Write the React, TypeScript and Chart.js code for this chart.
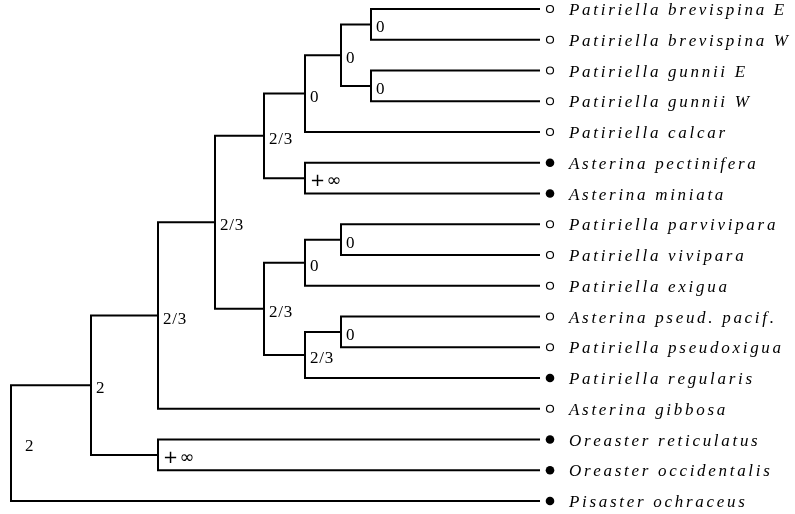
import React, { useEffect, useRef } from "react";
import { Chart, registerables } from "chart.js";

Chart.register(...registerables);

// ---- Data ----
const LEAF_NAMES = [
  "Patiriella brevispina E",
  "Patiriella brevispina W",
  "Patiriella gunnii E",
  "Patiriella gunnii W",
  "Patiriella calcar",
  "Asterina pectinifera",
  "Asterina miniata",
  "Patiriella parvivipara",
  "Patiriella vivipara",
  "Patiriella exigua",
  "Asterina pseud. pacif.",
  "Patiriella pseudoxigua",
  "Patiriella regularis",
  "Asterina gibbosa",
  "Oreaster reticulatus",
  "Oreaster occidentalis",
  "Pisaster ochraceus",
];
const LEAF_FILLED = [
  false, false, false, false, false, true, true, false, false, false,
  false, false, true, false, true, true, true,
];
// internal nodes: ids start with "n", leaves are "t<index>"
const NODE_IDS = ["nA", "nB", "nC", "nD", "nE", "nF", "nG", "nH", "nI", "nJ", "nK", "nL", "nM", "nN", "nO", "nR"];
const NODE_CHILDREN = [
  ["t0", "t1"],
  ["t2", "t3"],
  ["nA", "nB"],
  ["nC", "t4"],
  ["t5", "t6"],
  ["nD", "nE"],
  ["t7", "t8"],
  ["nG", "t9"],
  ["t10", "t11"],
  ["nI", "t12"],
  ["nH", "nJ"],
  ["nF", "nK"],
  ["nL", "t13"],
  ["t14", "t15"],
  ["nM", "nN"],
  ["nO", "t16"],
];
const NODE_DEPTH = [360, 360, 330, 294, 294, 253, 330, 294, 330, 294, 253, 204, 147, 147, 80, 0];
const NODE_LABELS = ["0", "0", "0", "0", "+\u221E", "2/3", "0", "0", "0", "2/3", "2/3", "2/3", "2/3", "+\u221E", "2", "2"];
const TIP_DEPTH = 528;

// ---- Tree helpers ----
function yOf(id: string): number {
  if (id.startsWith("t")) return parseInt(id.slice(1), 10);
  const i = NODE_IDS.indexOf(id);
  const [a, b] = NODE_CHILDREN[i];
  return (yOf(a) + yOf(b)) / 2;
}
function xOf(id: string): number {
  if (id.startsWith("t")) return TIP_DEPTH;
  return NODE_DEPTH[NODE_IDS.indexOf(id)];
}

const SERIF = '"Liberation Serif", "Times New Roman", serif';

function spacedText(ctx: CanvasRenderingContext2D, text: string, x: number, y: number, spacing: number) {
  let cx = x;
  for (const ch of text) {
    ctx.fillText(ch, cx, y);
    cx += ctx.measureText(ch).width + spacing;
  }
}

const treeTextPlugin = {
  id: "treeText",
  afterDatasetsDraw(chart: any) {
    const ctx = chart.ctx as CanvasRenderingContext2D;
    const xs = chart.scales.x;
    const ys = chart.scales.y;
    ctx.save();
    const tipPx = xs.getPixelForValue(TIP_DEPTH);
    ctx.textAlign = "left";
    ctx.textBaseline = "alphabetic";
    LEAF_NAMES.forEach((name, i) => {
      const py = ys.getPixelForValue(i);
      const cx = tipPx + 11;
      ctx.beginPath();
      if (LEAF_FILLED[i]) {
        ctx.arc(cx, py, 4.3, 0, Math.PI * 2);
        ctx.fillStyle = "#000";
        ctx.fill();
      } else {
        ctx.arc(cx, py, 3.5, 0, Math.PI * 2);
        ctx.fillStyle = "#fff";
        ctx.fill();
        ctx.lineWidth = 1.2;
        ctx.strokeStyle = "#000";
        ctx.stroke();
      }
      ctx.fillStyle = "#000";
      ctx.font = `italic 17px ${SERIF}`;
      spacedText(ctx, name, tipPx + 30, py + 6, 2.7);
    });
    NODE_IDS.forEach((id, i) => {
      const px = xs.getPixelForValue(NODE_DEPTH[i]);
      const py = ys.getPixelForValue(yOf(id));
      const gap = id === "nR" ? 14 : 5;
      const label = NODE_LABELS[i];
      if (label.includes("\u221E")) {
        ctx.font = `18px "DejaVu Sans", sans-serif`;
        spacedText(ctx, label, px + gap, py + 8, 1.5);
      } else {
        ctx.font = `17px ${SERIF}`;
        spacedText(ctx, label, px + gap, py + 8, 0.8);
      }
    });
    ctx.restore();
  },
};

export default function App() {
  const ref = useRef<HTMLCanvasElement | null>(null);
  useEffect(() => {
    if (!ref.current) return;
    const datasets = NODE_IDS.map((id, i) => {
      const [a, b] = NODE_CHILDREN[i];
      const d = NODE_DEPTH[i];
      return {
        label: id,
        data: [
          { x: xOf(a), y: yOf(a) },
          { x: d, y: yOf(a) },
          { x: d, y: yOf(b) },
          { x: xOf(b), y: yOf(b) },
        ],
        showLine: true,
        borderColor: "#000",
        borderWidth: 2,
        pointRadius: 0,
        borderJoinStyle: "miter" as const,
        borderCapStyle: "square" as const,
        tension: 0,
        clip: false as any,
      };
    });
    const chart = new Chart(ref.current, {
      type: "scatter",
      data: { datasets },
      options: {
        animation: false,
        responsive: false,
        events: [],
        layout: { padding: { left: 11, right: 256, top: 9, bottom: 13 } },
        plugins: { legend: { display: false }, tooltip: { enabled: false } },
        scales: {
          x: { type: "linear", min: 0, max: TIP_DEPTH, display: false },
          y: { type: "linear", min: 0, max: LEAF_NAMES.length - 1, reverse: true, display: false },
        },
      },
      plugins: [treeTextPlugin],
    });
    return () => chart.destroy();
  }, []);
  return (
    <div style={{ position: "absolute", left: 0, top: 0, width: 795, height: 514, background: "#fff" }}>
      <canvas ref={ref} width={795} height={514} style={{ width: 795, height: 514 }} />
    </div>
  );
}
